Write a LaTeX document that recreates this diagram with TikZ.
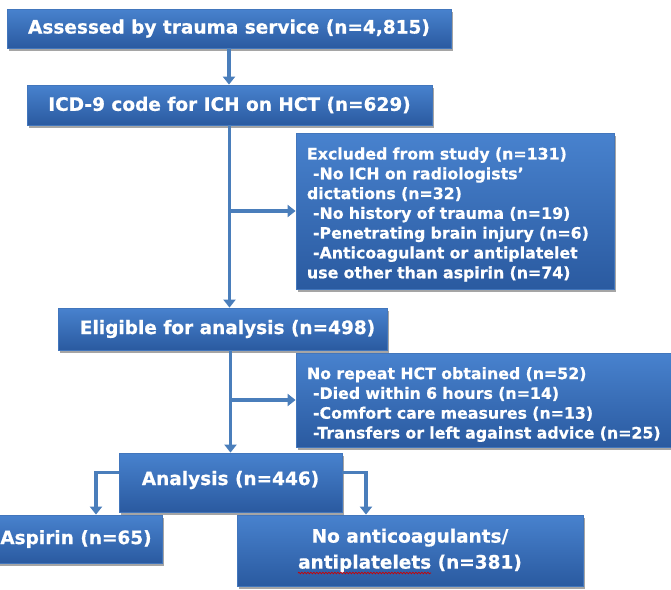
\documentclass[tikz,border=0pt]{standalone}
\usepackage{fontspec}
\setmainfont{DejaVu Sans}[BoldFeatures={FakeBold=0.6}]
\usetikzlibrary{shadows,arrows.meta,calc,decorations.pathmorphing}
\definecolor{linecol}{RGB}{74,126,187}
\definecolor{boxtop}{RGB}{72,130,206}
\definecolor{boxbot}{RGB}{42,90,160}
\definecolor{boxedge}{RGB}{66,118,188}
\tikzset{
  box/.style={draw=boxedge, line width=0.8pt, top color=boxtop, bottom color=boxbot,
    text=white, font=\bfseries\fontsize{18.5}{22}\selectfont, inner sep=0pt,
    drop shadow={shadow xshift=2pt, shadow yshift=-3pt, opacity=0.5, fill=black!70}},
  sbox/.style={box, font=\bfseries\fontsize{15.8}{19.8}\selectfont, align=left, inner xsep=11pt},
  conn/.style={draw=linecol, line width=3.8pt},
  arr/.style={conn, -{Triangle[width=12pt,length=8pt]}},
}
\begin{document}
\begin{tikzpicture}[x=1pt,y=-1pt]
\useasboundingbox (0,0) rectangle (671,589);
\clip (0,0) rectangle (671,589);
\fill[white] (0,0) rectangle (671,589);

\node[box, minimum width=444pt, minimum height=39pt] (b1) at (229,28.5) {Assessed by trauma service (n=4,815)};
\node[box, minimum width=405pt, minimum height=40pt] (b2) at (229.5,105) {ICD-9 code for ICH on HCT (n=629)};
\node[sbox, minimum width=318pt, minimum height=156pt, text width=296pt] (ex) at (455,211)
  {\rule{0pt}{19pt}Excluded from study (n=131)\\
   \hspace*{6pt}-No ICH on radiologists’\\
   dictations (n=32)\\
   \hspace*{6pt}-No history of trauma (n=19)\\
   \hspace*{6pt}-Penetrating brain injury (n=6)\\
   \hspace*{6pt}-Anticoagulant or antiplatelet\\
   use other than aspirin (n=74)};
\node[box, minimum width=329pt, minimum height=42pt] (el) at (222.5,329) {\hspace*{10pt}Eligible for analysis (n=498)};
\node[sbox, minimum width=384pt, minimum height=94pt, text width=362pt] (nr) at (488,400)
  {\rule{0pt}{21pt}No repeat HCT obtained (n=52)\\
   \hspace*{6pt}-Died within 6 hours (n=14)\\
   \hspace*{6pt}-Comfort care measures (n=13)\\
   \hspace*{6pt}-Transfers or left against advice (n=25)};
\node[box, minimum width=223pt, minimum height=59pt] (an) at (230.5,482.5) {Analysis (n=446)\rule[-9pt]{0pt}{9pt}};
\node[box, minimum width=172pt, minimum height=48pt] (as) at (76,539) {Aspirin (n=65)};
\node[box, minimum width=346pt, minimum height=71pt, align=center,
      font=\bfseries\fontsize{18.5}{26}\selectfont] (na) at (410,550.5)
  {No anticoagulants/\\antiplatelets (n=381)};

% spell-check underline
\draw[red!80!black, line width=0.7pt, decorate, decoration={snake, amplitude=0.8pt, segment length=3pt}]
  (298,573) -- (431,573);

\coordinate (v1) at (b2.south);
\coordinate (v2) at (el.south -| an.north);
\draw[arr] (b1.south) -- (b1.south |- b2.north);
\draw[arr] (v1) -- (v1 |- el.north);
\draw[arr] (v1 |- ex.west) -- (ex.west);
\draw[arr] (v2) -- (an.north);
\draw[arr] (v2 |- nr.west) -- (nr.west);
\draw[arr] ([yshift=10pt]an.west) -| ([xshift=20pt]as.north);
\draw[arr] ([yshift=10pt]an.east) -| ([xshift=-44pt]na.north);
\end{tikzpicture}
\end{document}
